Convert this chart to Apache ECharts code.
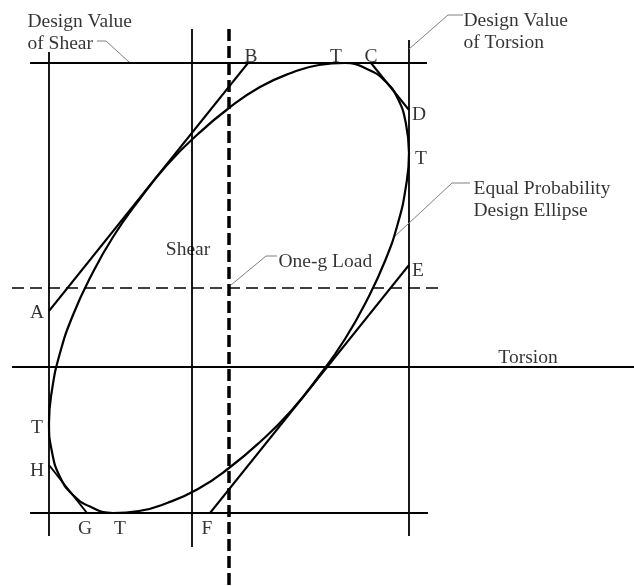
<!DOCTYPE html>
<html>
<head>
<meta charset="utf-8">
<script src="https://cdn.jsdelivr.net/npm/echarts@6/dist/echarts.min.js"></script>
<style>
  html, body { margin: 0; padding: 0; background: #fff; }
  #chart { width: 634px; height: 586px; }
</style>
</head>
<body>
<div id="chart"></div>
<script>
// torsion on x, shear on y; origin where the Shear and Torsion axes cross
var frameLines = [
  [[-162, 304], [235, 304]],   // design value of shear (top)
  [[-162, -146], [236, -146]], // bottom design line
  [[-143, 315], [-143, -169]], // left design line
  [[217, 327], [217, -169]],   // design value of torsion
  [[0, 338], [0, -180]],       // shear axis
  [[-180, 0], [442, 0]]        // torsion axis
]
var tangentLines = [
  [[-143, 56], [56, 304]],   // A - B
  [[179, 304], [217, 257]],  // C - D
  [[217, 102], [18, -146]],  // E - F
  [[-105, -146], [-143, -98]] // G - H
]
var oneGVertical = [[37, 338], [37, -219]]
var oneGHorizontal = [[-180, 79], [250, 79]]

// points read round the design ellipse (closed, first points repeated)
var ellipse = [
  [217, 214], [214, 243], [206, 268], [193, 286], [175, 298], [153, 304],
  [127, 302], [99, 294], [68, 280], [37, 259], [6, 233], [-25, 202],
  [-53, 167], [-79, 130], [-101, 91], [-119, 52], [-132, 14], [-140, -23],
  [-143, -56], [-140, -85], [-132, -110], [-119, -128], [-101, -140], [-79, -146],
  [-53, -144], [-25, -136], [6, -122], [37, -101], [68, -75], [99, -44],
  [127, -9], [153, 28], [175, 67], [193, 106], [206, 144], [214, 181],
  [217, 214], [214, 243]
]

var leaders = [
  [[-95, 326], [-86, 326], [-63, 305]],  // Design Value of Shear
  [[271, 352], [256, 352], [217, 318]],  // Design Value of Torsion
  [[278, 184], [260, 184], [201, 129]],  // Equal Probability Design Ellipse
  [[85, 111], [74, 111], [39, 82]]       // One-g Load
]

var pointLabels = [
  ['B', 59, 310], ['T', 144, 310], ['C', 179, 310],
  ['D', 227, 252], ['T', 229, 208], ['E', 226, 96],
  ['A', -155, 54], ['T', -155, -61], ['H', -155, -104],
  ['G', -107, -162], ['T', -72, -162], ['F', 15, -162],
  ['Shear', -4, 117], ['Torsion', 336, 9]
]
var captions = [
  ['Design Value\nof Shear', -165, 334],
  ['Design Value\nof Torsion', 271, 335],
  ['Equal Probability\nDesign Ellipse', 281, 167],
  ['One-g Load', 86, 105]
]

var textFont = {
  fontFamily: '"Liberation Serif", "DejaVu Serif", serif',
  fontSize: 19.5,
  color: '#000',
  lineHeight: 22
}

function segs(list) {
  return list.map(function (s) { return { coords: s } })
}

var myChart = echarts.init(document.getElementById('chart'))
myChart.setOption({
  animation: false,
  backgroundColor: '#fff',
  grid: { left: 0, right: 0, top: 0, bottom: 0 },
  xAxis: { type: 'value', min: -192, max: 442, show: false },
  yAxis: { type: 'value', min: -219, max: 367, show: false },
  series: [
    {
      type: 'lines',
      coordinateSystem: 'cartesian2d',
      polyline: true,
      data: segs(frameLines),
      lineStyle: { color: '#000', width: 1.8, opacity: 1 }
    },
    {
      type: 'lines',
      coordinateSystem: 'cartesian2d',
      polyline: true,
      data: segs(tangentLines),
      lineStyle: { color: '#000', width: 2, opacity: 1 }
    },
    {
      type: 'lines',
      coordinateSystem: 'cartesian2d',
      polyline: true,
      data: segs([oneGVertical]),
      lineStyle: { color: '#000', width: 3.5, type: [12, 5], opacity: 1 }
    },
    {
      type: 'lines',
      coordinateSystem: 'cartesian2d',
      polyline: true,
      data: segs([oneGHorizontal]),
      lineStyle: { color: '#000', width: 1.6, type: [12, 6], opacity: 1 }
    },
    {
      type: 'line',
      data: ellipse,
      smooth: true,
      symbol: 'none',
      lineStyle: { color: '#000', width: 2.2 }
    },
    {
      type: 'lines',
      coordinateSystem: 'cartesian2d',
      polyline: true,
      data: segs(leaders),
      lineStyle: { color: '#808080', width: 1, opacity: 1 }
    },
    {
      type: 'scatter',
      symbolSize: 1,
      itemStyle: { color: 'rgba(0,0,0,0)' },
      data: pointLabels.map(function (p) { return { name: p[0], value: [p[1], p[2]] } }),
      label: Object.assign({ show: true, position: 'inside', formatter: '{b}' }, textFont)
    },
    {
      type: 'scatter',
      symbolSize: 1,
      itemStyle: { color: 'rgba(0,0,0,0)' },
      data: captions.map(function (p) { return { name: p[0], value: [p[1], p[2]] } }),
      label: Object.assign({ show: true, position: 'right', distance: 0, align: 'left', formatter: '{b}' }, textFont)
    }
  ]
})
window.addEventListener('resize', function () { myChart.resize() })
</script>
</body>
</html>
